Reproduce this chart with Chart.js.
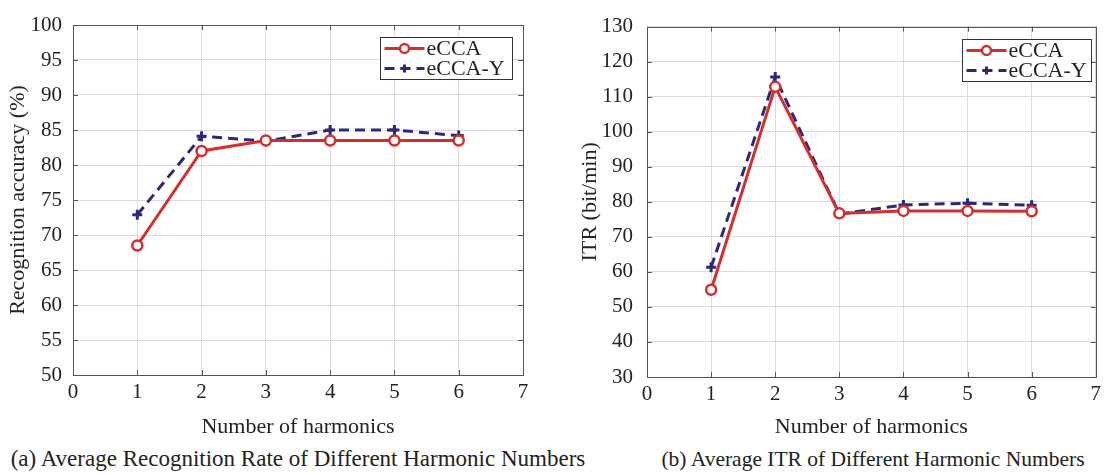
<!DOCTYPE html>
<html>
<head>
<meta charset="utf-8">
<script src="https://cdn.jsdelivr.net/npm/chart.js@4.4.1/dist/chart.umd.min.js"></script>
<style>
  body { margin: 0; background: #fff; width: 1106px; height: 475px; position: relative; overflow: hidden; }
  .chart-box { position: absolute; top: 0; height: 442px; }
  .caption { position: absolute; top: 446px; font-family: "Liberation Serif", serif; font-size: 23px; color: #222; white-space: nowrap; transform: translateX(-50%); }
</style>
</head>
<body>
<div class="chart-box" style="left:0; width:550px"><canvas id="chart-a"></canvas></div>
<div class="chart-box" style="left:572px; width:534px"><canvas id="chart-b"></canvas></div>
<div class="caption" style="left:298px">(a) Average Recognition Rate of Different Harmonic Numbers</div>
<div class="caption" style="left:873px; font-size:21.5px; top:447px">(b) Average ITR of Different Harmonic Numbers</div>
<script>
// Data
const harmonics = [1, 2, 3, 4, 5, 6]
const xTicks = [0, 1, 2, 3, 4, 5, 6, 7]
const accuracyEcca = [68.5, 82.0, 83.5, 83.5, 83.5, 83.5]
const accuracyEccaY = [72.9, 84.1, 83.4, 85.0, 85.0, 84.2]
const itrEcca = [54.9, 112.8, 76.7, 77.4, 77.4, 77.3]
const itrEccaY = [61.3, 115.6, 76.5, 79.1, 79.6, 79.0]
const seriesNames = ['eCCA', 'eCCA-Y']

const red = '#d2302f'
const navy = '#2c2a74'
const gridColor = '#dcd8e6'
const boxColor = '#555555'
const textColor = '#222222'
const fontFamily = '"Liberation Serif", "Times New Roman", serif'

const toPoints = (values) => values.map((v, i) => ({ x: harmonics[i], y: v }))

// Box, inner ticks and legend like MATLAB
const matlabBox = {
  id: 'matlabBox',
  afterDraw(chart, args, opts) {
    const { ctx, chartArea: a, scales } = chart
    ctx.save()
    ctx.strokeStyle = boxColor
    ctx.lineWidth = 1
    // inner ticks
    ctx.beginPath()
    scales.y.ticks.forEach((t) => {
      const y = Math.round(scales.y.getPixelForValue(t.value)) + 0.5
      ctx.moveTo(a.left, y); ctx.lineTo(a.left + 5, y)
      ctx.moveTo(a.right, y); ctx.lineTo(a.right - 5, y)
    })
    scales.x.ticks.forEach((t) => {
      const x = Math.round(scales.x.getPixelForValue(t.value)) + 0.5
      ctx.moveTo(x, a.bottom); ctx.lineTo(x, a.bottom - 5)
      ctx.moveTo(x, a.top); ctx.lineTo(x, a.top + 5)
    })
    ctx.stroke()
    ctx.strokeRect(Math.round(a.left) + 0.5, Math.round(a.top) + 0.5, Math.round(a.right - a.left), Math.round(a.bottom - a.top))

    // legend
    const w = opts.width
    const h = 42
    const bx = Math.round(a.right - opts.right - w) + 0.5
    const by = Math.round(a.top + 12) + 0.5
    ctx.fillStyle = '#fff'
    ctx.fillRect(bx, by, w, h)
    ctx.strokeStyle = '#333'
    ctx.strokeRect(bx, by, w, h)
    chart.data.datasets.forEach((ds, i) => {
      const y = by + 11 + i * 20
      const x0 = bx + 4
      const x1 = bx + 44
      ctx.strokeStyle = ds.borderColor
      ctx.lineWidth = ds.borderWidth
      ctx.setLineDash(ds.borderDash || [])
      ctx.beginPath(); ctx.moveTo(x0, y); ctx.lineTo(x1, y); ctx.stroke()
      ctx.setLineDash([])
      const cx = (x0 + x1) / 2
      ctx.lineWidth = ds.pointBorderWidth
      ctx.strokeStyle = ds.pointBorderColor
      if (ds.pointStyle === 'circle') {
        ctx.fillStyle = '#fff'
        ctx.beginPath(); ctx.arc(cx, y, 4.5, 0, Math.PI * 2); ctx.fill(); ctx.stroke()
      } else {
        ctx.beginPath()
        ctx.moveTo(cx - 4, y); ctx.lineTo(cx + 4, y)
        ctx.moveTo(cx, y - 4); ctx.lineTo(cx, y + 4)
        ctx.stroke()
      }
      ctx.fillStyle = textColor
      ctx.font = '22px ' + fontFamily
      ctx.textBaseline = 'middle'
      ctx.fillText(ds.label, x1 + 2, y + 1)
    })
    ctx.restore()
  }
}

function makeChart(canvas, ecca, eccaY, yMin, yMax, yStep, yTitle, area, legend) {
  return new Chart(canvas, {
    type: 'line',
    data: {
      datasets: [
        {
          label: seriesNames[0],
          data: toPoints(ecca),
          borderColor: red,
          borderWidth: 3,
          pointStyle: 'circle',
          pointRadius: 5,
          pointBorderWidth: 2.5,
          pointBorderColor: red,
          pointBackgroundColor: '#ffffff',
          fill: false,
          tension: 0,
          order: 1
        },
        {
          label: seriesNames[1],
          data: toPoints(eccaY),
          borderColor: navy,
          borderWidth: 3,
          borderDash: [10, 6],
          pointStyle: 'cross',
          pointRadius: 5,
          pointBorderWidth: 3,
          pointBorderColor: navy,
          fill: false,
          tension: 0,
          order: 2
        }
      ]
    },
    options: {
      responsive: true,
      maintainAspectRatio: false,
      animation: false,
      layout: { padding: { top: area.top, right: area.right, left: 0, bottom: 0 } },
      plugins: {
        legend: { display: false },
        tooltip: { enabled: false },
        matlabBox: legend
      },
      scales: {
        x: {
          type: 'linear',
          min: 0,
          max: 7,
          afterBuildTicks: (scale) => { scale.ticks = xTicks.map((v) => ({ value: v })) },
          afterFit: (scale) => { scale.height = area.xHeight },
          grid: { color: gridColor, drawTicks: false },
          border: { display: false },
          ticks: { color: textColor, padding: 5, font: { family: fontFamily, size: 21 } },
          title: { display: true, text: 'Number of harmonics', color: textColor, padding: 2, font: { family: fontFamily, size: 22 } }
        },
        y: {
          min: yMin,
          max: yMax,
          afterFit: (scale) => { scale.width = area.left },
          grid: { color: gridColor, drawTicks: false },
          border: { display: false },
          ticks: { stepSize: yStep, color: textColor, padding: area.yPad, font: { family: fontFamily, size: 21 } },
          title: { display: true, text: yTitle, color: textColor, padding: 5, font: { family: fontFamily, size: 22 } }
        }
      }
    },
    plugins: [matlabBox]
  })
}

makeChart(document.querySelector('#chart-a'), accuracyEcca, accuracyEccaY, 50, 100, 5,
  'Recognition accuracy (%)', { top: 25, right: 27, left: 73, xHeight: 67, yPad: 11 }, { width: 132, right: 11 })

makeChart(document.querySelector('#chart-b'), itrEcca, itrEccaY, 30, 130, 10,
  'ITR (bit/min)', { top: 25, right: 9, left: 75, xHeight: 65, yPad: 14 }, { width: 129, right: 5 })
</script>
</body>
</html>
